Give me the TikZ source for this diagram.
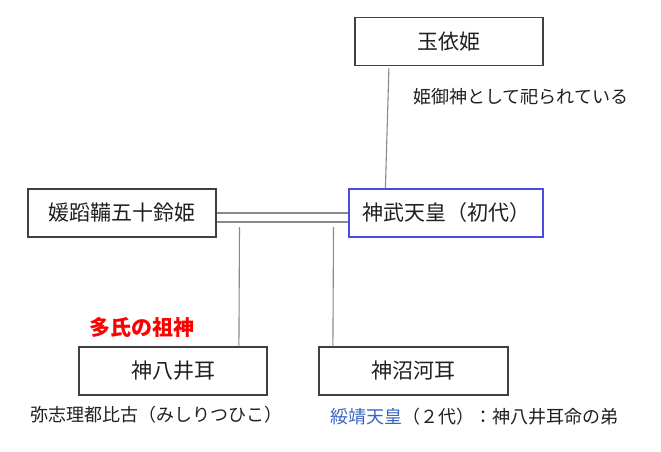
\documentclass[tikz,border=0pt]{standalone}
\usepackage{fontspec}
\setmainfont{Noto Sans CJK JP}
\usetikzlibrary{calc}
\definecolor{boxline}{HTML}{404040}
\definecolor{jblue}{HTML}{4B4BE0}
\definecolor{conn}{HTML}{8A8A8A}
\definecolor{linkblue}{HTML}{3B63C4}
\definecolor{txt}{HTML}{202020}
\tikzset{
  person/.style={draw=boxline, line width=1.2pt, minimum height=48pt, inner sep=0pt, text=txt, font=\fontsize{21}{21}\selectfont},
  note/.style={anchor=west, inner sep=0pt, text=txt, font=\fontsize{18}{18}\selectfont},
  link/.style={draw=conn, line width=1.1pt}
}
\begin{document}
\begin{tikzpicture}[x=1pt,y=-1pt]
\useasboundingbox[fill=white] (0,0) rectangle (661,451);
\node[person, minimum width=188pt] (tama) at (449,41.5) {玉依姫};
\node[person, minimum width=188pt] (hime) at (122,213) {媛蹈鞴五十鈴姫};
\node[person, draw=jblue, minimum width=194pt, text width=168pt, align=left] (jimmu) at (446,213) {神武天皇（初代）};
\node[person, minimum width=188pt] (yai) at (173,371) {神八井耳};
\node[person, minimum width=189pt] (nuna) at (413.5,371) {神沼河耳};
\node[note] (n1) at (413,97) {姫御神として祀られている};
\node[anchor=west, inner sep=0pt, text=red, font=\fontsize{21}{21}\selectfont\bfseries] (n2) at (89,327) {多氏の祖神};
\node[note] (n3) at (30,415) {弥志理都比古（みしりつひこ）};
\node[note] (n4) at (330,417) {\textcolor{linkblue}{綏靖天皇}（２代）：神八井耳命の弟};
\coordinate (c0) at ($(tama.south west)+(34.5,2)$);
\coordinate (c1) at (239.5,227);
\coordinate (c2) at (333.5,227);
\draw[link] (c0) -- ($(jimmu.north west)+(37,0)$);
\draw[link] ($(hime.east)+(0,0)$) -- ($(jimmu.west)+(0,0)$);
\draw[link] ($(hime.east)+(0,9)$) -- ($(jimmu.west)+(0,9)$);
\draw[link] (c1) -- ($(yai.north west)+(160.5,0)$);
\draw[link] (c2) -- ($(nuna.north west)+(14.5,0)$);
\end{tikzpicture}
\end{document}
